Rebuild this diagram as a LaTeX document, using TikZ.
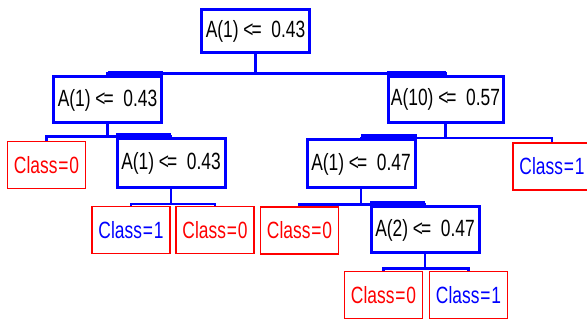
\documentclass[tikz,border=0pt]{standalone}
\usepackage{fontspec}
\setmainfont{Liberation Sans}
\usepackage{graphicx}
\usepackage{tikz}
\usetikzlibrary{positioning}
\definecolor{splitblue}{HTML}{0000FF}
\definecolor{leafred}{HTML}{FF0000}
\newcommand{\cond}[2]{\scalebox{0.74}[1]{A(#1) <\kern-0.12em=\ \ #2}}
\newcommand{\cls}[1]{\scalebox{0.74}[1]{Class\kern0.05em=\kern0.05em#1}}

\begin{document}
\begin{tikzpicture}[x=1pt,y=-1pt,font=\fontsize{23.5}{25}\selectfont,
  split/.style={draw=splitblue,line width=3pt,minimum width=108pt,minimum height=46pt,inner sep=0pt,text=black},
  leaf/.style={draw=leafred,line width=1.5pt,minimum width=78pt,minimum height=47pt,inner sep=0pt},
  edge/.style={draw=splitblue,line width=2.5pt}]
  \clip (0,0) rectangle (587,320);
  %% split nodes
  \node[split,minimum height=43pt] (root) at (255.5,31.5) {\cond{1}{0.43}};
  \node[split] (n1) at (107.5,100) {\cond{1}{0.43}};
  \node[split,minimum width=115pt] (n2) at (445.5,99.5) {\cond{10}{0.57}};
  \node[split,minimum height=49pt] (n3) at (171,163) {\cond{1}{0.43}};
  \node[split,minimum height=48pt] (n4) at (361,164) {\cond{1}{0.47}};
  \node[split] (n5) at (425,230) {\cond{2}{0.47}};
  %% leaves
  \node[leaf,text=leafred] (l1) at (46.5,165) {\cls{0}};
  \node[leaf,text=splitblue] (l2) at (552,166.5) {\cls{1}};
  \node[leaf,text=splitblue] (l3) at (131,230) {\cls{1}};
  \node[leaf,text=leafred] (l4) at (215,230) {\cls{0}};
  \node[leaf,text=leafred] (l5) at (299.5,230.5) {\cls{0}};
  \node[leaf,text=leafred] (l6) at (383.5,295) {\cls{0}};
  \node[leaf,text=splitblue] (l7) at (468.5,295) {\cls{1}};
  %% connectors
  \foreach \p/\c/\d in {root/n1/19, root/n2/19, n1/l1/12, n1/n3/12, n2/n4/14, n2/l2/14,
                        n3/l3/15, n3/l4/15, n4/l5/15, n4/n5/15, n5/l6/14, n5/l7/14}
    \draw[edge] (\p.south) -- ++(0,\d) -| (\c.north);
  %% joints where the bar meets a split box
  \foreach \c/\s in {n1/east, n2/west, n3/west, n4/east, n5/west}
    \fill[splitblue] ([yshift=4pt]\c.north) rectangle (\c.north \s);
\end{tikzpicture}
\end{document}
